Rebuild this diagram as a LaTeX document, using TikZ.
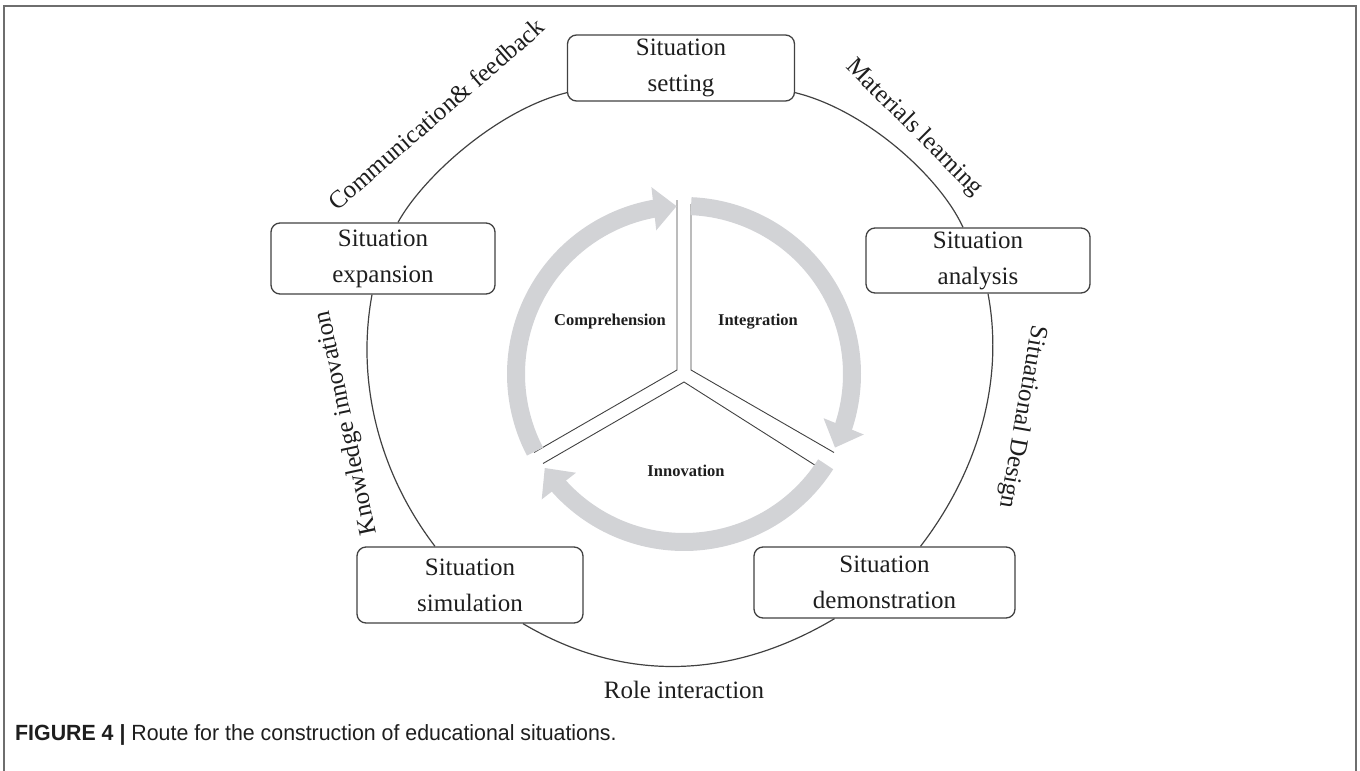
\documentclass[tikz,border=0pt]{standalone}
\usepackage{fontspec}
\setmainfont{Liberation Serif}
\newfontfamily\capfont{Liberation Sans}
\usetikzlibrary{arrows.meta,bending}
\definecolor{bandgray}{RGB}{210,211,214}
\definecolor{ink}{RGB}{30,30,30}
\definecolor{edgecol}{RGB}{65,65,65}
\definecolor{framecol}{RGB}{110,110,110}
\tikzset{
  stagebox/.style={draw=edgecol, line width=1.3pt, rounded corners=9pt, inner sep=0pt,
    align=center, font=\fontsize{25}{36}\selectfont, text=ink},
  link/.style={draw=edgecol, line width=1.2pt},
  looplabel/.style={font=\fontsize{25}{30}\selectfont, text=ink, inner sep=0pt},
  bandarrow/.style={draw=bandgray, line width=18pt, -{Triangle[width=42pt,length=23pt,flex]}},
  divider/.style={draw=edgecol, line width=0.9pt},
  innerlabel/.style={font=\fontsize{16.5}{20}\selectfont\bfseries, text=ink, inner sep=0pt},
  frameline/.style={draw=framecol, line width=1.5pt},
}
\begin{document}
\begin{tikzpicture}[x=1pt, y=-1pt]
\useasboundingbox (0,0) rectangle (1360,771);
% frame
\draw[frameline] (4,771) -- (4,6) -- (1356,6) -- (1356,771);

% stage boxes
\node[stagebox, minimum width=227pt, minimum height=66pt] (set) at (681,68) {Situation\\setting};
\node[stagebox, minimum width=224pt, minimum height=71pt] (exp) at (383,258.5) {Situation\\expansion};
\node[stagebox, minimum width=224pt, minimum height=65pt] (ana) at (978,260.5) {Situation\\analysis};
\node[stagebox, minimum width=226pt, minimum height=76pt] (sim) at (470,585) {Situation\\simulation};
\node[stagebox, minimum width=261pt, minimum height=71pt] (dem) at (884.5,582.5) {Situation\\demonstration};

% outer connectors
\draw[link] ([yshift=9pt]set.south west) .. controls (497,110) and (423,177) .. ([xshift=15pt]exp.north);
\draw[link] ([yshift=9pt]set.south east) .. controls (866,110) and (940,177) .. ([xshift=-15pt]ana.north);
\draw[link] ([xshift=10pt]ana.south) .. controls (1005,384) and (976,474) .. ([xshift=36pt]dem.north);
\draw[link] ([xshift=-50pt]dem.south) .. controls (733,679) and (625,684) .. ([xshift=53pt]sim.south);
\draw[link] ([xshift=-35pt]sim.north) .. controls (380.5,475) and (355.5,384) .. ([xshift=-11pt]exp.south);

% outer labels
\node[looplabel, rotate=41] (lcom) at (436,114) {Communication\& feedback};
\node[looplabel, rotate=-45] (lmat) at (914,128) {Materials learning};
\node[looplabel, rotate=-100] (lsit) at (1022,417) {Situational Design};
\node[looplabel, anchor=base] (lrole) at (684,698) {Role interaction};
\node[looplabel, rotate=102] (lknow) at (347,423) {Knowledge innovation};

% inner cycle
\coordinate (c) at (684,374);
\coordinate (apC) at (677,370);
\coordinate (apI) at (691,370);
\coordinate (apN) at (684,382);
\draw[divider] (677,200) -- (apC) -- (534,452.5);
\draw[divider] (691,204) -- (apI) -- (834,452.5);
\draw[divider] (543,463.5) -- (apN) -- (825,471.5);

\draw[bandarrow] (c) ++(152.5:168) arc[start angle=152.5, end angle=267.5, radius=168];
\draw[bandarrow] (c) ++(272.4:168) arc[start angle=272.4, end angle=386, radius=168];
\draw[bandarrow] (c) ++(32.5:168) arc[start angle=32.5, end angle=146, radius=168];

\node[innerlabel] (comp) at (610,322) {Comprehension};
\node[innerlabel] (integ) at (758,322) {Integration};
\node[innerlabel] (innov) at (686,471) {Innovation};

% caption
\node[anchor=base west, inner sep=0pt, font=\capfont\fontsize{22}{26}\selectfont, text=ink] (cap) at (15,740)
  {\scalebox{0.97}[1]{\textbf{FIGURE 4 |} Route for the construction of educational situations.}};
\end{tikzpicture}
\end{document}
